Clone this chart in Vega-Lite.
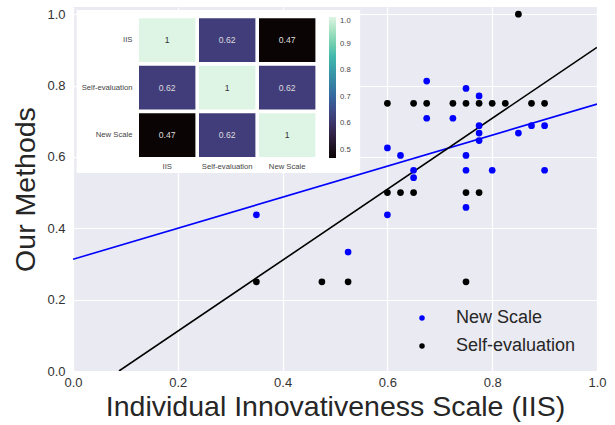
{
  "$schema": "https://vega.github.io/schema/vega-lite/v6.json",
  "width": 524,
  "height": 364,
  "autosize": "none",
  "padding": {"left": 73, "top": 7, "right": 18, "bottom": 54},
  "background": "white",
  "config": {"view": {"fill": "#EAEAF2", "stroke": null}, "font": "Liberation Sans"},
  "datasets": {
    "points": [
      {"series": "New Scale", "x": 0.675, "y": 0.8125},
      {"series": "New Scale", "x": 0.75, "y": 0.7917},
      {"series": "New Scale", "x": 0.775, "y": 0.7708},
      {"series": "New Scale", "x": 0.675, "y": 0.7083},
      {"series": "New Scale", "x": 0.725, "y": 0.7083},
      {"series": "New Scale", "x": 0.775, "y": 0.6875},
      {"series": "New Scale", "x": 0.875, "y": 0.6875},
      {"series": "New Scale", "x": 0.9, "y": 0.6875},
      {"series": "New Scale", "x": 0.85, "y": 0.6667},
      {"series": "New Scale", "x": 0.775, "y": 0.6667},
      {"series": "New Scale", "x": 0.775, "y": 0.6458},
      {"series": "New Scale", "x": 0.6, "y": 0.625},
      {"series": "New Scale", "x": 0.625, "y": 0.6042},
      {"series": "New Scale", "x": 0.75, "y": 0.6042},
      {"series": "New Scale", "x": 0.65, "y": 0.5625},
      {"series": "New Scale", "x": 0.65, "y": 0.5417},
      {"series": "New Scale", "x": 0.75, "y": 0.5625},
      {"series": "New Scale", "x": 0.8, "y": 0.5625},
      {"series": "New Scale", "x": 0.9, "y": 0.5625},
      {"series": "New Scale", "x": 0.75, "y": 0.4583},
      {"series": "New Scale", "x": 0.6, "y": 0.4375},
      {"series": "New Scale", "x": 0.525, "y": 0.3333},
      {"series": "New Scale", "x": 0.35, "y": 0.4375},
      {"series": "Self-evaluation", "x": 0.85, "y": 1.0},
      {"series": "Self-evaluation", "x": 0.6, "y": 0.75},
      {"series": "Self-evaluation", "x": 0.65, "y": 0.75},
      {"series": "Self-evaluation", "x": 0.675, "y": 0.75},
      {"series": "Self-evaluation", "x": 0.725, "y": 0.75},
      {"series": "Self-evaluation", "x": 0.75, "y": 0.75},
      {"series": "Self-evaluation", "x": 0.775, "y": 0.75},
      {"series": "Self-evaluation", "x": 0.8, "y": 0.75},
      {"series": "Self-evaluation", "x": 0.825, "y": 0.75},
      {"series": "Self-evaluation", "x": 0.875, "y": 0.75},
      {"series": "Self-evaluation", "x": 0.9, "y": 0.75},
      {"series": "Self-evaluation", "x": 0.6, "y": 0.5},
      {"series": "Self-evaluation", "x": 0.625, "y": 0.5},
      {"series": "Self-evaluation", "x": 0.65, "y": 0.5},
      {"series": "Self-evaluation", "x": 0.75, "y": 0.5},
      {"series": "Self-evaluation", "x": 0.775, "y": 0.5},
      {"series": "Self-evaluation", "x": 0.35, "y": 0.25},
      {"series": "Self-evaluation", "x": 0.475, "y": 0.25},
      {"series": "Self-evaluation", "x": 0.525, "y": 0.25},
      {"series": "Self-evaluation", "x": 0.75, "y": 0.25}
    ],
    "fits": [
      {"series": "New Scale", "x": 0.0, "y": 0.313},
      {"series": "New Scale", "x": 1.0, "y": 0.748},
      {"series": "Self-evaluation", "x": 0.0878, "y": 0.0},
      {"series": "Self-evaluation", "x": 1.0, "y": 0.907}
    ],
    "corr": [
      {"r": "IIS", "c": "IIS", "v": 1},
      {"r": "IIS", "c": "Self-evaluation", "v": 0.62},
      {"r": "IIS", "c": "New Scale", "v": 0.47},
      {"r": "Self-evaluation", "c": "IIS", "v": 0.62},
      {"r": "Self-evaluation", "c": "Self-evaluation", "v": 1},
      {"r": "Self-evaluation", "c": "New Scale", "v": 0.62},
      {"r": "New Scale", "c": "IIS", "v": 0.47},
      {"r": "New Scale", "c": "Self-evaluation", "v": 0.62},
      {"r": "New Scale", "c": "New Scale", "v": 1}
    ]
  },
  "layer": [
    {
      "layer": [
        {
          "data": {"name": "fits"},
          "mark": {"type": "line", "strokeWidth": 1.6, "clip": true},
          "encoding": {
            "x": {"field": "x", "type": "quantitative", "title": "Individual Innovativeness Scale (IIS)",
              "scale": {"domain": [0, 1], "nice": false, "zero": false},
              "axis": {"values": [0, 0.2, 0.4, 0.6, 0.8, 1], "format": ".1f", "labelFontSize": 13, "labelColor": "#333333", "ticks": false, "domain": false, "gridColor": "white", "gridWidth": 1.2, "labelFlush": false, "labelOverlap": false, "labelPadding": 5, "titleFontSize": 28.5, "titleFontWeight": "normal", "titleColor": "#262626", "titlePadding": 3}},
            "y": {"field": "y", "type": "quantitative", "title": "Our Methods",
              "scale": {"domain": [0, 1.02], "nice": false, "zero": false},
              "axis": {"values": [0, 0.2, 0.4, 0.6, 0.8, 1], "format": ".1f", "labelFontSize": 13, "labelColor": "#333333", "ticks": false, "domain": false, "gridColor": "white", "gridWidth": 1.2, "labelFlush": false, "labelOverlap": false, "labelPadding": 8, "titleFontSize": 28.5, "titleFontWeight": "normal", "titleColor": "#262626", "titlePadding": 6}},
            "stroke": {"field": "series", "type": "nominal", "scale": {"domain": ["New Scale", "Self-evaluation"], "range": ["#0000ff", "#000000"]}, "legend": null}
          }
        },
        {
          "data": {"name": "points"},
          "mark": {"type": "point", "filled": true, "size": 45, "opacity": 1},
          "encoding": {
            "x": {"field": "x", "type": "quantitative", "title": "Individual Innovativeness Scale (IIS)"},
            "y": {"field": "y", "type": "quantitative", "title": "Our Methods"},
            "color": {"field": "series", "type": "nominal",
              "scale": {"domain": ["New Scale", "Self-evaluation"], "range": ["#0000ff", "#000000"]},
              "legend": {"title": null, "orient": "none", "legendX": 340, "legendY": 302, "labelFontSize": 18, "labelColor": "#262626", "symbolSize": 30, "symbolType": "circle", "labelOffset": 25, "rowPadding": 10, "padding": 0, "symbolStrokeWidth": 0}}
          }
        },
        {
          "data": {"values": [{}]},
          "mark": {"type": "rect", "color": "white"},
          "encoding": {
            "x": {"datum": 0.007, "type": "quantitative", "title": "Individual Innovativeness Scale (IIS)"},
            "x2": {"datum": 0.548},
            "y": {"datum": 0.555, "type": "quantitative", "title": "Our Methods"},
            "y2": {"datum": 1.0116}
          }
        }
      ]
    },
    {
      "data": {"name": "corr"},
      "layer": [
        {
          "mark": {"type": "rect"},
          "encoding": {
            "x": {"field": "c", "type": "nominal", "sort": ["IIS", "Self-evaluation", "New Scale"],
              "scale": {"domain": ["IIS", "Self-evaluation", "New Scale"], "range": [66, 242.4], "paddingInner": 0.06, "paddingOuter": 0},
              "axis": {"orient": "bottom", "offset": -214, "title": null, "labelAngle": 0, "ticks": false, "domain": false, "grid": false, "labelFontSize": 7.7, "labelColor": "#444444", "labelPadding": 5, "zindex": 1}},
            "y": {"field": "r", "type": "nominal", "sort": ["IIS", "Self-evaluation", "New Scale"],
              "scale": {"domain": ["IIS", "Self-evaluation", "New Scale"], "range": [11.3, 150], "paddingInner": 0.08, "paddingOuter": 0},
              "axis": {"orient": "left", "offset": -66, "title": null, "ticks": false, "domain": false, "grid": false, "labelFontSize": 7.7, "labelColor": "#444444", "labelPadding": 7, "zindex": 1}},
            "color": {"field": "v", "type": "quantitative",
              "scale": {"type": "linear", "domain": [0.47, 0.5457, 0.6214, 0.6971, 0.7729, 0.8486, 0.9243, 1.0], "range": ["#0b0405", "#2e1e3b", "#413d7b", "#37659e", "#348fa7", "#40b7ad", "#8bdab2", "#def5e5"], "interpolate": "rgb"},
              "legend": {"title": null, "orient": "none", "legendX": 256, "legendY": 10, "direction": "vertical", "gradientLength": 141, "gradientThickness": 7, "values": [0.5, 0.6, 0.7, 0.8, 0.9, 1.0], "format": ".1f", "labelFontSize": 7.7, "labelColor": "#444444", "labelOffset": 4, "gradientStrokeWidth": 0, "labelBaseline": "middle", "padding": 0, "labelOverlap": false}}
          }
        },
        {
          "mark": {"type": "text", "fontSize": 8.6},
          "encoding": {
            "x": {"field": "c", "type": "nominal", "sort": ["IIS", "Self-evaluation", "New Scale"]},
            "y": {"field": "r", "type": "nominal", "sort": ["IIS", "Self-evaluation", "New Scale"]},
            "text": {"field": "v", "type": "quantitative", "format": ".2~f"},
            "color": {"condition": {"test": "datum.v > 0.8", "value": "#333333"}, "value": "#dddddd"}
          }
        }
      ]
    }
  ],
  "resolve": {
    "scale": {"x": "independent", "y": "independent", "color": "independent"},
    "axis": {"x": "independent", "y": "independent"},
    "legend": {"color": "independent"}
  }
}
